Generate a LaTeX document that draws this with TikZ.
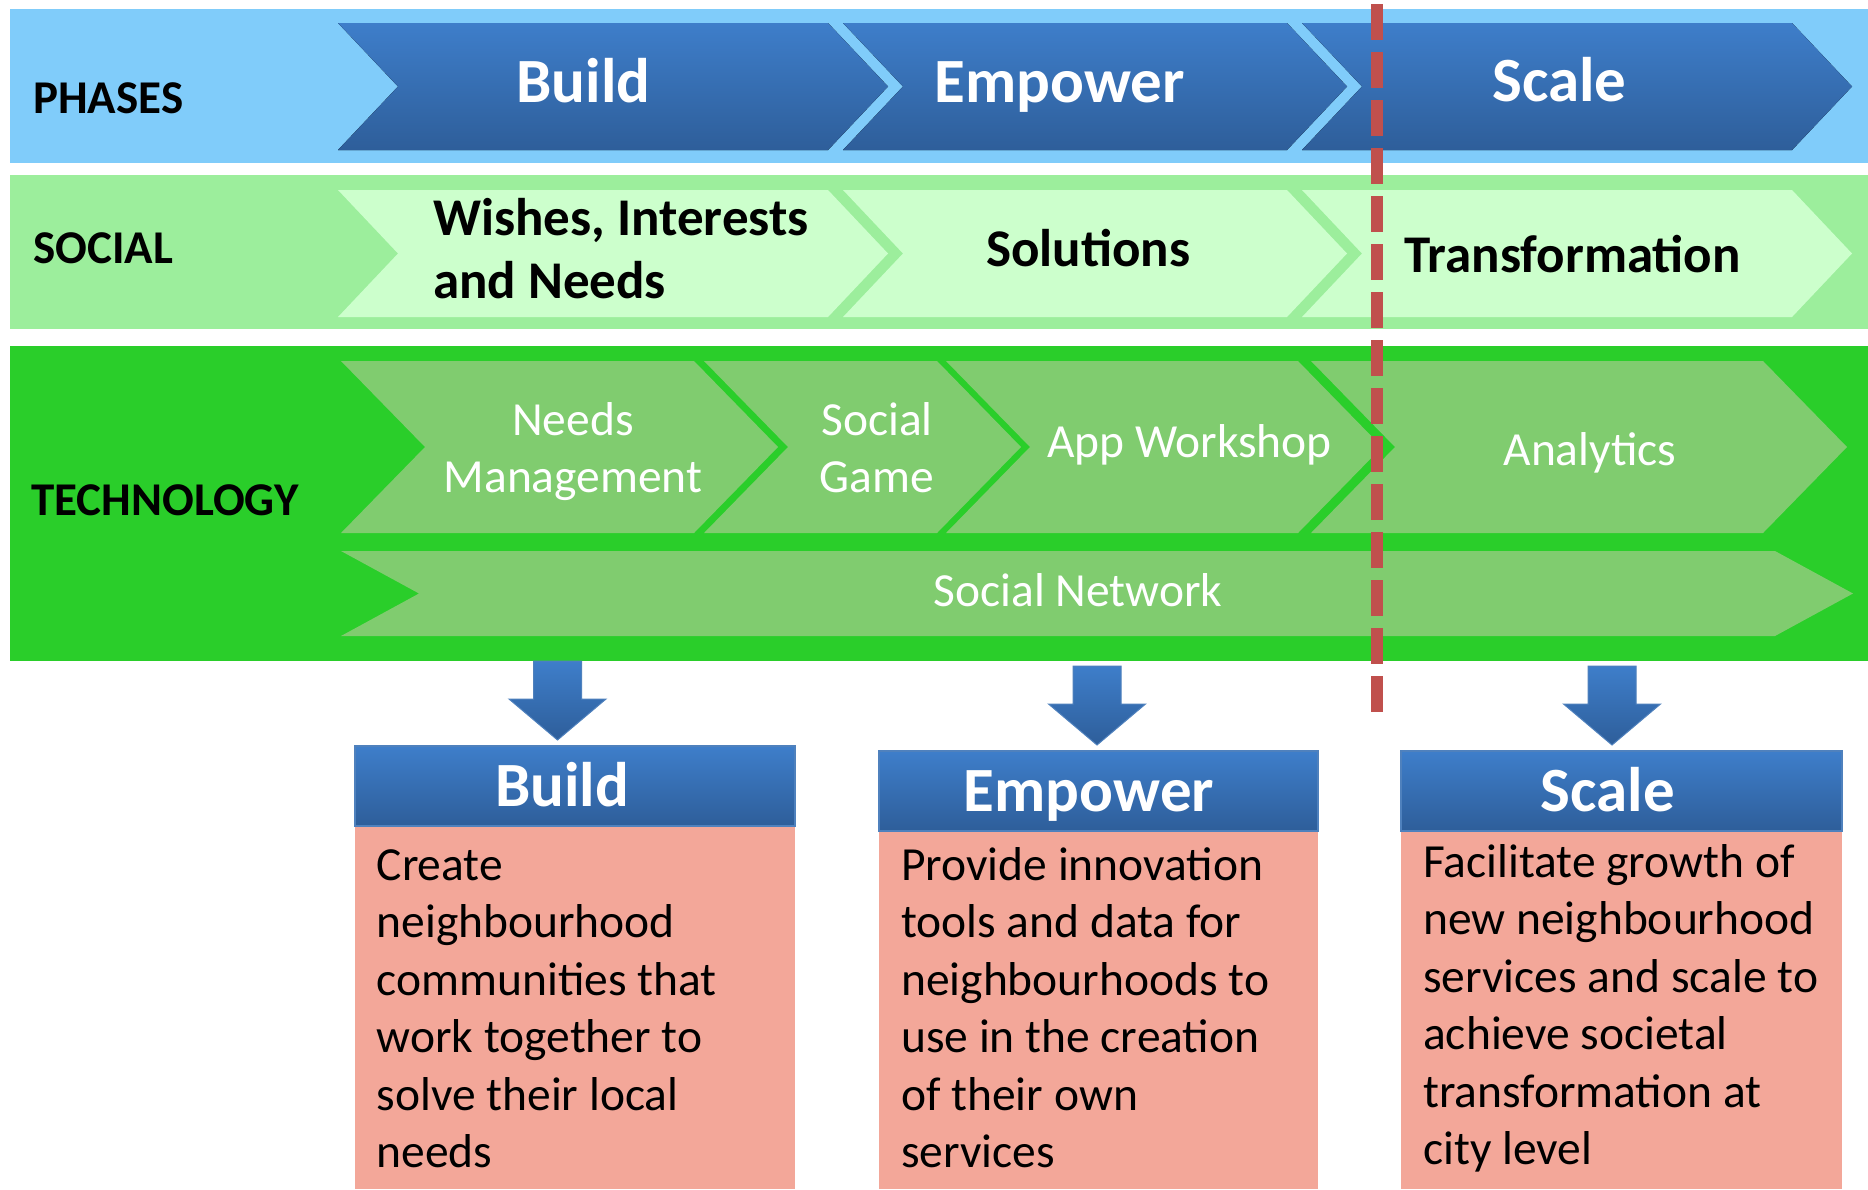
\documentclass[tikz,border=0pt]{standalone}
\usepackage{fontspec}
\setmainfont{Carlito}

\definecolor{PhaseBand}{RGB}{128,204,250}
\definecolor{SocialBand}{RGB}{156,238,156}
\definecolor{TechBand}{RGB}{42,206,42}
\definecolor{SocialChev}{RGB}{204,255,204}
\definecolor{TechChev}{RGB}{128,204,111}
\definecolor{BlueTop}{RGB}{62,126,202}
\definecolor{BlueBot}{RGB}{46,94,154}
\definecolor{BlueEdge}{RGB}{79,129,189}
\definecolor{Salmon}{RGB}{243,167,153}
\definecolor{DivRed}{RGB}{192,80,77}

% chevron: left, right, top, bottom, depth, style
\newcommand{\chev}[6]{%
  \fill[#6] (#1,#3) -- (#2,#3) -- ({#2+#5},{(#3+#4)/2}) -- (#2,#4)
    -- (#1,#4) -- ({#1+#5},{(#3+#4)/2}) -- cycle;}

\tikzset{
  bandlabel/.style={anchor=base west,inner sep=0pt,font=\fontsize{47}{56}\selectfont\bfseries},
  phasetext/.style={anchor=base,inner sep=0pt,text=white,font=\fontsize{63}{70}\selectfont\bfseries},
  socialtext/.style={anchor=base west,inner sep=0pt,font=\fontsize{53}{62}\selectfont\bfseries},
  techtext/.style={anchor=base,inner sep=0pt,text=white,font=\fontsize{47.5}{57}\selectfont},
  bodyline/.style={anchor=base west,inner sep=0pt,font=\fontsize{47.5}{57.5}\selectfont},
  bluefill/.style={top color=BlueTop,bottom color=BlueBot},
}

\begin{document}
\begin{tikzpicture}[x=1pt,y=-1pt]
  \useasboundingbox (0,0) rectangle (1868,1189);
  \fill[white] (0,0) rectangle (1868,1189);
  % the three bands
  \fill[PhaseBand] (10,9) rectangle (1868,163);
  \fill[SocialBand] (10,175) rectangle (1868,329);
  \fill[TechBand] (10,346) rectangle (1868,661);
  % phase and social chevrons
  \foreach \l/\r in {338/828,843/1287,1302/1792}{%
    \chev{\l}{\r}{23}{150}{60}{bluefill}
    \chev{\l}{\r}{190}{317}{60}{SocialChev}
  }
  % technology chevrons
  \foreach \l/\r in {341/694,704/937,946/1298,1311/1763}{%
    \chev{\l}{\r}{361}{533}{84}{TechChev}
  }
  \chev{341}{1775}{551}{636}{78}{TechChev}

  \node[bandlabel] (PhasesLbl) at (33,113) {PHASES};
  \node[bandlabel] (SocialLbl) at (33,263) {SOCIAL};
  \node[bandlabel] (TechLbl) at (31,515) {TECHNOLOGY};

  \node[phasetext] (PhBuild) at (583.5,102) {Build};
  \node[phasetext] (PhEmpower) at (1059.5,102) {Empower};
  \node[phasetext] (PhScale) at (1559.5,101) {Scale};

  \node[socialtext] (SoWishes) at (433,235) {Wishes, Interests};
  \node[socialtext] (SoNeeds) at (433,298) {and Needs};
  \node[socialtext] (SoSolutions) at (986,266) {Solutions};
  \node[socialtext] (SoTransf) at (1404,272) {Transformation};

  \node[techtext] (TeNeedsA) at (573,435) {Needs};
  \node[techtext] (TeNeedsB) at (573,492) {Management};
  \node[techtext] (TeGameA) at (877,435) {Social};
  \node[techtext] (TeGameB) at (877,492) {Game};
  \node[techtext] (TeApp) at (1189.5,457) {App Workshop};
  \node[techtext] (TeAnalytics) at (1590,465) {Analytics};
  \node[techtext] (TeNetwork) at (1078,606) {Social Network};

  % block arrows down to the boxes
  \foreach \x/\y in {557.5/661,1097/666,1612/666}{%
    \path[bluefill,draw=BlueEdge,line width=1pt] ({\x-24},\y) -- ({\x+24},\y)
      -- ({\x+24},{\y+38}) -- ({\x+48.5},{\y+38}) -- (\x,{\y+79})
      -- ({\x-48.5},{\y+38}) -- ({\x-24},{\y+38}) -- cycle;
  }

  % header and body of the three boxes
  \foreach \l/\r/\t in {355/795/746,879/1318/751,1401/1842/751}{%
    \fill[Salmon] (\l,{\t+80}) rectangle (\r,1189);
    \path[bluefill,draw=BlueEdge,line width=1.5pt] (\l,\t) rectangle (\r,{\t+80});
  }
  \node[phasetext] (HdBuild) at (562,806) {Build};
  \node[phasetext] (HdEmpower) at (1089,811) {Empower};
  \node[phasetext] (HdScale) at (1608,811) {Scale};

  \foreach \txt [count=\i] in {Create,neighbourhood,communities that,work together to,solve their local,needs}
    \node[bodyline] (BuildL\i) at (376.5,{880+57.5*(\i-1)}) {\txt};
  \foreach \txt [count=\i] in {Provide innovation,tools and data for,neighbourhoods to,use in the creation,of their own,services}
    \node[bodyline] (EmpowerL\i) at (901,{880+57.5*(\i-1)}) {\txt};
  \foreach \txt [count=\i] in {Facilitate growth of,new neighbourhood,services and scale to,achieve societal,transformation at,city level}
    \node[bodyline] (ScaleL\i) at (1423,{877+57.5*(\i-1)}) {\txt};

  % dividing line before the scale phase
  \draw[DivRed,line width=12pt,dash pattern=on 36pt off 12pt] (1377,4) -- (1377,712);
\end{tikzpicture}
\end{document}
